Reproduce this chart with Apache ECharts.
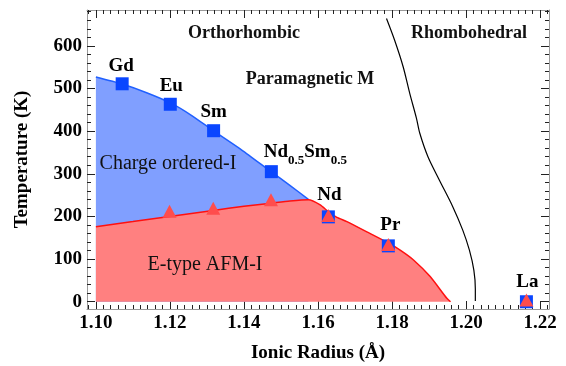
<!DOCTYPE html>
<html>
<head>
<meta charset="utf-8">
<script src="https://cdn.jsdelivr.net/npm/echarts@6/dist/echarts.min.js"></script>
<style>
  html, body { margin: 0; padding: 0; background: #fff; }
  #chart { width: 566px; height: 366px; }
</style>
</head>
<body>
<div id="chart"></div>
<script>
// tick labels
var xTicks = [1.10, 1.12, 1.14, 1.16, 1.18, 1.20, 1.22]
var yTicks = [0, 100, 200, 300, 400, 500, 600]

// charge-order boundary (blue)
var tcoX = [1.1000, 1.1069, 1.1137, 1.1204, 1.1260, 1.1317, 1.1395, 1.1473, 1.1524, 1.1574]
var tcoT = [527, 511, 490, 465, 436, 401, 355, 305, 273, 240]

// AFM / paramagnetic boundary (red)
var tnX = [1.1000, 1.1100, 1.1199, 1.1317, 1.1400, 1.1473, 1.1524, 1.1574, 1.1606, 1.1628, 1.1651, 1.1678, 1.1732, 1.1790, 1.1822, 1.1858, 1.1903, 1.1948, 1.1958]
var tnT = [176, 188, 200, 214, 224, 231, 236, 239, 227, 211, 198, 188, 164, 138, 121, 98, 59, 8, 0]

// orthorhombic / rhombohedral boundary (black)
var strX = [1.1785, 1.1807, 1.1830, 1.1848, 1.1866, 1.1875, 1.1897, 1.1928, 1.1964, 1.1991, 1.2009, 1.2021, 1.2025, 1.2025]
var strT = [664, 613, 551, 488, 430, 395, 340, 285, 223, 168, 121, 74, 30, 2]

// measured points
var pointNames = ['Gd', 'Eu', 'Sm', 'Nd0.5Sm0.5', 'Nd', 'Pr', 'La']
var squareX = [1.1071, 1.1201, 1.1318, 1.1474, 1.1628, 1.1790, 1.2163]
var squareT = [511, 463, 401, 305, 199, 131, 0]
var triX = [1.1199, 1.1317, 1.1473, 1.1628, 1.1790, 1.2163]
var triT = [212, 219, 239, 202, 134, 4]

var labelOffsets = [[-1, -18], [1, -18], [0, -19], [34, -21], [1, -22], [2, -21], [1, -20]]

var xMin = 1.0976, xMax = 1.2224
var yMin = -17, yMax = 684

var font = '"Liberation Serif", "DejaVu Serif", serif'
var frameColor = '#9a9a9a'
var tickColor = '#222'

function zip(xs, ys) {
  return xs.map(function (x, i) { return [x, ys[i]] })
}

// minor tick positions
var xMinor = []
for (var i = 0; i <= 62; i++) {
  var v = +(1.098 + i * 0.002).toFixed(3)
  if (v > xMin && v < xMax) xMinor.push(v)
}
var yMinor = []
for (var j = 0; j <= 34; j++) {
  var t = j * 20
  if (t < yMax) yMinor.push(t)
}

function valueAxis(dim, pos, ticks, len, withLabel, showLine) {
  var ax = {
    type: 'value',
    position: pos,
    min: dim === 'x' ? xMin : yMin,
    max: dim === 'x' ? xMax : yMax,
    axisLine: { show: showLine, onZero: false, lineStyle: { color: frameColor, width: 1 } },
    axisTick: { show: true, inside: true, length: len, customValues: ticks, lineStyle: { color: tickColor, width: 1 } },
    axisLabel: { show: false },
    splitLine: { show: false }
  }
  if (withLabel) {
    ax.axisLabel = {
      show: true,
      customValues: ticks,
      margin: 5,
      color: '#000',
      fontFamily: font,
      fontWeight: 'bold',
      fontSize: 19,
      formatter: function (v) { return dim === 'x' ? v.toFixed(2) : String(Math.round(v)) }
    }
  }
  return ax
}

var xAxes = [
  valueAxis('x', 'bottom', xTicks, 8, true, true),
  valueAxis('x', 'bottom', xMinor, 4, false, false),
  valueAxis('x', 'top', xTicks, 8, false, true),
  valueAxis('x', 'top', xMinor, 4, false, false)
]
xAxes[0].name = 'Ionic Radius (Å)'
xAxes[0].nameLocation = 'middle'
xAxes[0].nameGap = 35
xAxes[0].nameTextStyle = { fontFamily: font, fontWeight: 'bold', fontSize: 19, color: '#000' }

var yAxes = [
  valueAxis('y', 'left', yTicks, 8, true, true),
  valueAxis('y', 'left', yMinor, 4, false, false),
  valueAxis('y', 'right', yTicks, 8, false, true),
  valueAxis('y', 'right', yMinor, 4, false, false)
]
yAxes[0].name = 'Temperature (K)'
yAxes[0].nameLocation = 'middle'
yAxes[0].nameGap = 55
yAxes[0].nameTextStyle = { fontFamily: font, fontWeight: 'bold', fontSize: 19, color: '#000' }

var squareData = squareX.map(function (x, i) {
  return {
    name: pointNames[i],
    value: [x, squareT[i]],
    label: { offset: labelOffsets[i] }
  }
})

function textAt(x, y, str, size, weight) {
  return {
    type: 'text',
    x: x,
    y: y,
    z: 100,
    style: {
      text: str,
      x: 0,
      y: 0,
      align: 'center',
      verticalAlign: 'middle',
      fontFamily: font,
      fontSize: size,
      fontWeight: weight,
      fill: '#111'
    }
  }
}

var chart = echarts.init(document.getElementById('chart'))
var option = {
  animation: false,
  backgroundColor: '#fff',
  grid: { left: 87, right: 17, top: 10, bottom: 57, containLabel: false, outerBoundsMode: 'none' },
  xAxis: xAxes,
  yAxis: yAxes,
  graphic: [
    textAt(244, 33, 'Orthorhombic', 18, 'bold'),
    textAt(469, 33, 'Rhombohedral', 18, 'bold'),
    textAt(310, 79, 'Paramagnetic M', 18, 'bold'),
    textAt(168, 164, 'Charge ordered-I', 20, 'normal'),
    textAt(205, 265, 'E-type AFM-I', 20, 'normal')
  ],
  series: [
    {
      name: 'CO',
      type: 'line',
      xAxisIndex: 0,
      yAxisIndex: 0,
      data: zip(tcoX, tcoT),
      showSymbol: false,
      smooth: 0.2,
      lineStyle: { color: '#2060ff', width: 1.5 },
      areaStyle: { color: '#809fff', opacity: 1, origin: 'auto' },
      z: 1
    },
    {
      name: 'AFM',
      type: 'line',
      xAxisIndex: 0,
      yAxisIndex: 0,
      data: zip(tnX, tnT),
      showSymbol: false,
      smooth: 0.2,
      lineStyle: { color: '#ff1010', width: 1.5 },
      areaStyle: { color: '#ff8080', opacity: 1, origin: 'auto' },
      z: 2
    },
    {
      name: 'structure',
      type: 'line',
      xAxisIndex: 0,
      yAxisIndex: 0,
      data: zip(strX, strT),
      showSymbol: false,
      smooth: 0.3,
      lineStyle: { color: '#000', width: 1.2 },
      z: 3
    },
    {
      name: 'Tco',
      type: 'scatter',
      xAxisIndex: 0,
      yAxisIndex: 0,
      symbol: 'rect',
      symbolSize: 13,
      itemStyle: { color: '#0a46ff', opacity: 1 },
      data: squareData,
      label: {
        show: true,
        position: 'inside',
        color: '#000',
        fontFamily: font,
        fontWeight: 'bold',
        fontSize: 19,
        formatter: function (p) {
          if (p.name === 'Nd0.5Sm0.5') return '{b|Nd}{s|0.5}{b|Sm}{s|0.5}'
          return p.name
        },
        rich: {
          b: { fontFamily: font, fontWeight: 'bold', fontSize: 19, color: '#000', lineHeight: 22, verticalAlign: 'bottom' },
          s: { fontFamily: font, fontWeight: 'bold', fontSize: 13, color: '#000', lineHeight: 22, verticalAlign: 'bottom', padding: [0, 0, -5, 0] }
        }
      },
      z: 4
    },
    {
      name: 'TN',
      type: 'scatter',
      xAxisIndex: 0,
      yAxisIndex: 0,
      symbol: 'triangle',
      symbolSize: [14, 13],
      itemStyle: { color: '#ff4d4d', opacity: 1 },
      data: zip(triX, triT),
      z: 5
    }
  ]
}
chart.setOption(option)
</script>
</body>
</html>
